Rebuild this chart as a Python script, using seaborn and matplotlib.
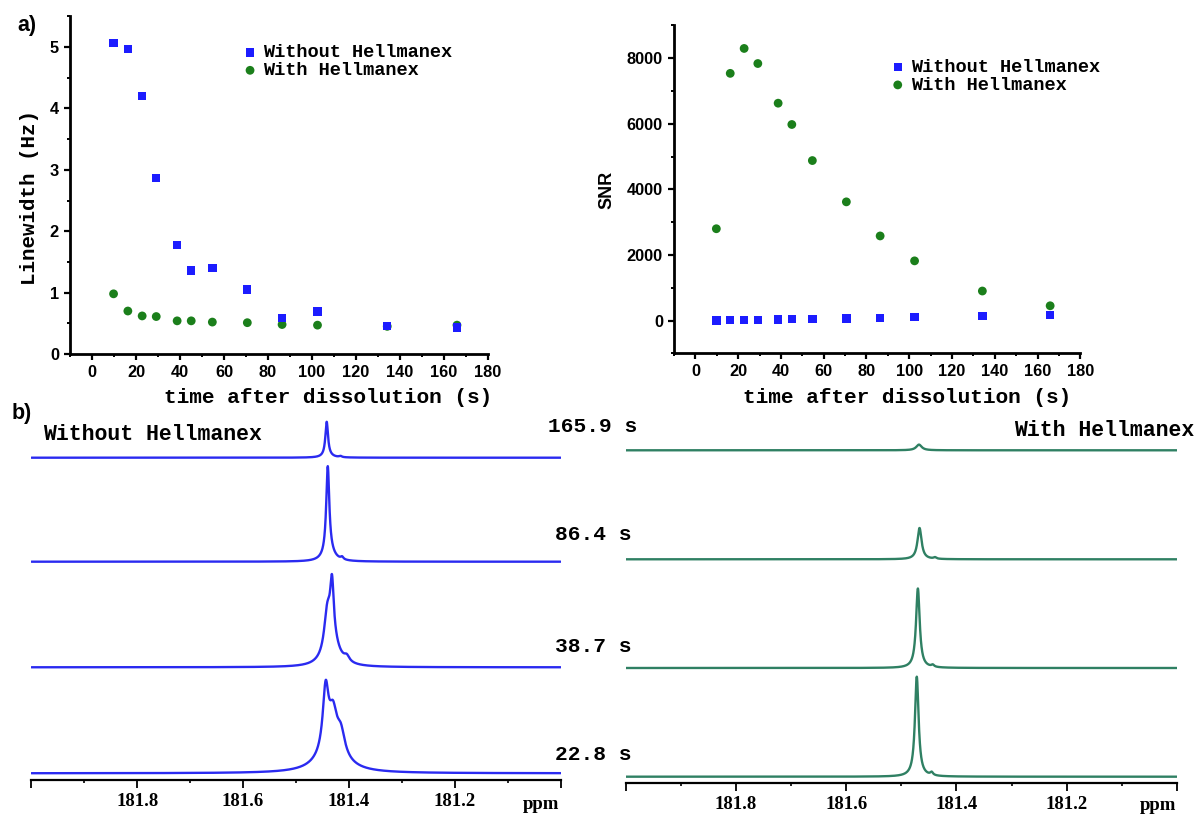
import numpy as np
import pandas as pd
import matplotlib
matplotlib.use('Agg')
import matplotlib.pyplot as plt
import seaborn as sns
from matplotlib.ticker import MultipleLocator, FixedLocator, FixedFormatter

# ---------------- data ----------------
series_names = ['Without Hellmanex', 'With Hellmanex']
time_s = [9.8, 16.3, 22.8, 29.2, 38.7, 45.1, 54.7, 70.6, 86.4, 102.5, 134.2, 165.9]
lw_without = [5.07, 4.97, 4.20, 2.87, 1.78, 1.36, 1.40, 1.05, 0.59, 0.69, 0.46, 0.43]
lw_with = [0.98, 0.70, 0.62, 0.61, 0.54, 0.54, 0.52, 0.51, 0.48, 0.47, 0.45, 0.47]
snr_without = [0, 10, 10, 20, 30, 41, 51, 61, 82, 102, 143, 163]
snr_with = [2800, 7540, 8300, 7840, 6630, 5980, 4880, 3620, 2580, 1820, 900, 450]

# spectra: time labels and Lorentzian components (centre ppm, amplitude, half width ppm)
spec_times = [22.8, 38.7, 86.4, 165.9]
wo_centers = [[181.444, 181.430, 181.415, 181.433],
              [181.432, 181.441, 181.404, 181.432],
              [181.440, 181.437, 181.413],
              [181.442, 181.440, 181.416]]
wo_amps = [[61.7, 34.5, 21.7, 22.0],
           [53.7, 37.4, 5.5, 25.0],
           [88.0, 8.0, 2.5],
           [34.0, 2.0, 1.2]]
wo_hwhm = [[0.0065, 0.009, 0.009, 0.030],
           [0.004, 0.007, 0.006, 0.015],
           [0.0035, 0.012, 0.003],
           [0.003, 0.010, 0.003]]
w_centers = [[181.472, 181.445], [181.470, 181.443], [181.467, 181.439], [181.468]]
w_amps = [[100.0, 3.0], [79.5, 2.0], [31.3, 1.5], [5.7]]
w_hwhm = [[0.004, 0.003], [0.004, 0.003], [0.0045, 0.003], [0.006]]

ppm_ticks = [182.0, 181.8, 181.6, 181.4, 181.2, 181.0]
ppm_labels = ['', '181.8', '181.6', '181.4', '181.2', '']

# ---------------- style ----------------
sns.set_style('ticks', {'axes.edgecolor': 'black', 'xtick.color': 'black',
                        'ytick.color': 'black', 'text.color': 'black',
                        'axes.labelcolor': 'black'})
plt.rcParams['font.family'] = ['Liberation Sans', 'DejaVu Sans']
mono = ['Liberation Mono', 'DejaVu Sans Mono']
sans = ['Liberation Sans', 'DejaVu Sans']
serif = ['Liberation Serif', 'DejaVu Serif']

blue_pt = '#1c1cff'
green_pt = '#1b7f1b'
blue_line = '#2a2af0'
green_line = '#2f8063'

W, H = 1197, 816
fig = plt.figure(figsize=(W / 100, H / 100), dpi=100)


def px_axes(l, t, r, b):
    return fig.add_axes([l / W, 1 - b / H, (r - l) / W, (b - t) / H])


ax_lw = px_axes(70, 16.3, 488, 354)
ax_snr = px_axes(674, 25.5, 1080.3, 353.3)
ax_wo = px_axes(31.4, 410, 560.6, 780)
ax_w = px_axes(625.9, 413.3, 1176.8, 783.3)


def scatter_panel(ax, y_without, y_with, leg_xy):
    df = pd.DataFrame({'time': time_s * 2,
                       'value': list(y_with) + list(y_without),
                       'series': [series_names[1]] * len(time_s) + [series_names[0]] * len(time_s)})
    sns.scatterplot(data=df[df.series == series_names[1]], x='time', y='value', ax=ax,
                    marker='o', s=40, color=green_pt, edgecolor='none', label=series_names[1])
    sns.scatterplot(data=df[df.series == series_names[0]], x='time', y='value', ax=ax,
                    marker='s', s=36, color=blue_pt, edgecolor='none', label=series_names[0])
    h, l = ax.get_legend_handles_labels()
    order = [l.index(series_names[0]), l.index(series_names[1])]
    ax.legend([h[i] for i in order], [l[i] for i in order], loc='center left',
              bbox_to_anchor=(leg_xy[0] / W, 1 - leg_xy[1] / H), bbox_transform=fig.transFigure,
              frameon=False, borderpad=0, borderaxespad=0, handlelength=0.8,
              handletextpad=0.3, labelspacing=0.05,
              prop=dict(family=mono, weight='bold', size=13.4))
    ax.set_xlim(-10, 180)
    ax.xaxis.set_major_locator(FixedLocator(list(range(0, 181, 20))))
    ax.xaxis.set_minor_locator(MultipleLocator(10))
    ax.tick_params(which='major', direction='out', length=4.6, width=1.6, labelsize=11.8, pad=3.4)
    ax.tick_params(which='minor', direction='out', length=2.4, width=1.4)
    sns.despine(ax=ax)
    for s in ('left', 'bottom'):
        ax.spines[s].set_linewidth(2.0)
    ax.set_xlabel('time after dissolution (s)', fontfamily=mono, fontweight='bold', fontsize=15.2)
    ax.xaxis.label.set_va('center')


scatter_panel(ax_lw, lw_without, lw_with, (242.6, 61.7))
ax_lw.set_ylim(0, 5.5)
ax_lw.yaxis.set_major_locator(FixedLocator([0, 1, 2, 3, 4, 5]))
ax_lw.yaxis.set_minor_locator(MultipleLocator(0.5))
ax_lw.set_ylabel('Linewidth (Hz)', fontfamily=mono, fontweight='bold', fontsize=15)
ax_lw.yaxis.label.set_va('center')
ax_lw.xaxis.set_label_coords(0.617, -0.130)
ax_lw.yaxis.set_label_coords(-0.097, 0.463)

scatter_panel(ax_snr, snr_without, snr_with, (890.3, 76.3))
ax_snr.set_ylim(-1000, 9000)
ax_snr.yaxis.set_major_locator(FixedLocator([0, 2000, 4000, 6000, 8000]))
ax_snr.yaxis.set_minor_locator(MultipleLocator(1000))
ax_snr.set_ylabel('SNR', fontfamily=sans, fontweight='bold', fontsize=13)
ax_snr.yaxis.label.set_va('center')
ax_snr.xaxis.set_label_coords(0.574, -0.136)
ax_snr.yaxis.set_label_coords(-0.165, 0.498)
for ax in (ax_lw, ax_snr):
    for lab in ax.get_xticklabels() + ax.get_yticklabels():
        lab.set_fontweight('bold')
        lab.set_fontfamily(sans)

# ---------------- spectra ----------------
ppm = np.linspace(182.0, 181.0, 6001)


def lorentz_sum(centers, amps, hwhm):
    y = np.zeros_like(ppm)
    for c, a, w in zip(centers, amps, hwhm):
        y += a / (1.0 + ((ppm - c) / w) ** 2)
    return y


wo_offsets = [6.7, 112.7, 218.3, 322.3]
w_offsets = [6.6, 115.3, 224.0, 333.0]

for i in range(len(spec_times)):
    sns.lineplot(x=ppm, y=wo_offsets[i] + lorentz_sum(wo_centers[i], wo_amps[i], wo_hwhm[i]),
                 ax=ax_wo, color=blue_line, linewidth=1.7, sort=False, estimator=None)
    sns.lineplot(x=ppm, y=w_offsets[i] + lorentz_sum(w_centers[i], w_amps[i], w_hwhm[i]),
                 ax=ax_w, color=green_line, linewidth=1.7, sort=False, estimator=None)

for ax in (ax_wo, ax_w):
    ax.set_facecolor('none')
    ax.set_xlim(182.0, 181.0)
    ax.set_ylim(0, 370)
    for s in ('left', 'top', 'right'):
        ax.spines[s].set_visible(False)
    ax.spines['bottom'].set_linewidth(1.6)
    ax.set_yticks([])
    ax.xaxis.set_major_locator(FixedLocator(ppm_ticks))
    ax.xaxis.set_major_formatter(FixedFormatter(ppm_labels))
    ax.xaxis.set_minor_locator(MultipleLocator(0.1))
    ax.tick_params(axis='x', which='major', direction='out', length=5.8, width=1.3,
                   labelsize=13.5, pad=3.5)
    ax.tick_params(axis='x', which='minor', direction='out', length=2.5, width=1.2)
    for lab in ax.get_xticklabels():
        lab.set_fontfamily(serif)
        lab.set_fontweight('bold')
    ax.set_xlabel('ppm', fontfamily=serif, fontweight='bold', fontsize=13.5)
    ax.xaxis.label.set_va('center')

ax_wo.xaxis.set_label_coords(0.963, -0.065)
ax_w.xaxis.set_label_coords(0.965, -0.060)

# ---------------- texts ----------------
fig.text(43 / W, 1 - 434 / H, 'Without Hellmanex', ha='left', va='center',
         fontfamily=mono, fontweight='bold', fontsize=15.5)
fig.text(1194 / W, 1 - 430 / H, 'With Hellmanex', ha='right', va='center',
         fontfamily=mono, fontweight='bold', fontsize=15.5)
label_y = [755, 646.7, 535, 426.7]
for t, yy in zip(spec_times, label_y):
    fig.text(593 / W, 1 - yy / H, f'{t} s', ha='center', va='center',
             fontfamily=mono, fontweight='bold', fontsize=15.3)

fig.text(27 / W, 1 - 25 / H, 'a)', ha='center', va='center', fontfamily=sans,
         fontweight='bold', fontsize=15.5)
fig.text(22 / W, 1 - 413 / H, 'b)', ha='center', va='center', fontfamily=sans,
         fontweight='bold', fontsize=15.5)

fig.savefig('out.png', dpi=100)
